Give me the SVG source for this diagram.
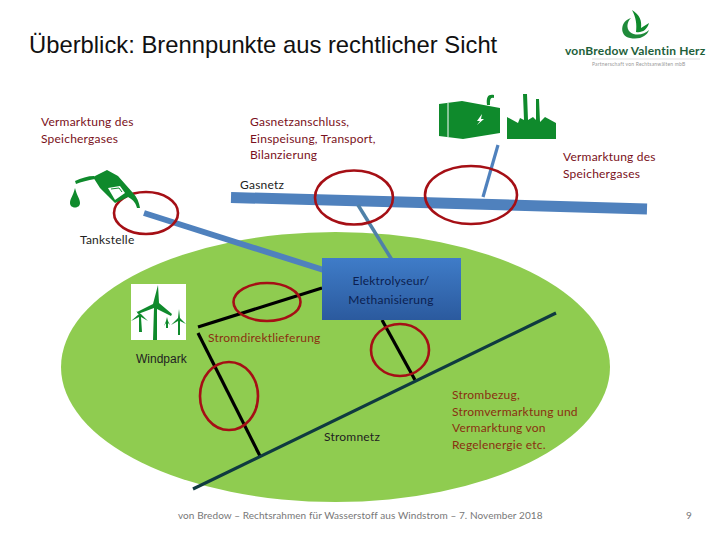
<svg xmlns="http://www.w3.org/2000/svg" width="720" height="540" viewBox="0 0 720 540">
<defs>
<linearGradient id="box" x1="0" y1="0" x2="0" y2="1"><stop offset="0" stop-color="#3f7cc8"/><stop offset="1" stop-color="#2b5a9e"/></linearGradient>
</defs>
<style>
text{font-family:"Lato","Open Sans",sans-serif;font-size:12px;letter-spacing:.22px}
.r{fill:#7a1020}.k{fill:#222}.o{fill:#8a3010}
.c{fill:none;stroke:#a50f15;stroke-width:2.6}
.g{fill:#0f8a2c}
.bl{stroke:#4f81bd;fill:none}
.bk{stroke:#000;stroke-width:3.2;fill:none}
</style>
<rect width="720" height="540" fill="#fff"/>
<ellipse id="region" cx="335.5" cy="367" rx="274.5" ry="135" fill="#8fcc50"/>
<text x="29" y="53" style="font-family:'Liberation Sans',sans-serif;font-size:23.8px;letter-spacing:0" fill="#111">Überblick: Brennpunkte aus rechtlicher Sicht</text>
<g id="logo">
<path class="g" d="M632 10 C640 15 642 21 641 28 L649 23 C647 30 642 33 636 32 C637 25 636 17 632 10Z"/>
<path d="M631 18 C620 21 619 36 630 38 C640 40 647 36 649 30 C645 34 636 37 630 32 C626 28 627 22 631 18Z" fill="#1f8a3a"/>
<text x="565" y="55" style="font-size:12px;font-weight:700;letter-spacing:.2px" fill="#1e5f3a">vonBredow Valentin Herz</text>
<path d="M592 59H700" stroke="#cfcfcf" stroke-width=".7"/>
<text x="592" y="66" style="font-size:5px;letter-spacing:.2px" fill="#999">Partnerschaft von Rechtsanwälten mbB</text>
</g>
<g id="connectors">
<path class="bl" d="M231 197.5 L420 202.5 L647 209" stroke-width="11"/>
<path class="bl" d="M144 213 L330 272" stroke-width="6"/>
<path d="M358 205 L392 260" stroke="#4f81a8" stroke-width="3.5" fill="none"/>
<path class="bl" d="M498 145 L483 197" stroke-width="3.2"/>
<path class="bk" d="M198 327 L322 288"/>
<path class="bk" d="M198 333 L260 456"/>
<path class="bk" d="M382 320 L415 380"/>
<path d="M193 489 L556 313" stroke="#0f3a40" stroke-width="3.2" fill="none"/>
</g>
<g id="elektrolyseur">
<rect x="322" y="258" width="139" height="62" fill="url(#box)"/>
<text x="391" y="285" text-anchor="middle" fill="#0c1f50">Elektrolyseur/</text>
<text x="391" y="304" text-anchor="middle" fill="#0c1f50">Methanisierung</text>
</g>
<g id="focus-circles">
<ellipse class="c" cx="146" cy="213" rx="32" ry="21"/>
<ellipse class="c" cx="267" cy="302" rx="33.5" ry="19"/>
<ellipse class="c" cx="229" cy="396" rx="29" ry="34"/>
<ellipse class="c" cx="400" cy="350" rx="29" ry="26"/>
<ellipse class="c" cx="354" cy="197.5" rx="39" ry="27"/>
<ellipse class="c" cx="471" cy="195" rx="46" ry="29"/>
</g>
<g id="pump">
<path class="g" d="M75 181 C81 178 88 176 94 176 L95 179 C88 180 81 182 76 184Z"/>
<path class="g" d="M93 177 L107 170 L118 176 L133 193 C137 197 139 202 140 208 L137 208 C136 204 134 200 128 197 L115 203 L100 188Z"/>
<path d="M108 188 L120 186 L125 193 L115 200Z" fill="#fff"/>
<path d="M111 189 L119 188 L122 192" fill="none" stroke="#0f8a2c" stroke-width="1"/>
<path class="g" d="M75 188 C73 196 70 199 70 203 C70 209 80 209 80 203 C80 199 77 196 75 188Z"/>
</g>
<g id="powerplant">
<path class="g" d="M439 104 L462 101 L500 108 L500 133 L463 139 L439 136Z"/>
<path d="M448 103V137" stroke="#fff" stroke-width="1" fill="none"/>
<path class="g" d="M487 105 C486 97 488 94 494 95 L494 98 C490 97 490 100 490 105Z"/>
<path d="M482 114 L477 121 L480 121 L477 125 L484 119 L481 119Z" fill="#fff"/>
<path class="g" d="M507 117 L518 123 L520 118 L524 120 L523 94 L527 94 L528 120 L533 117 L536 120 L536 99 L539 99 L540 122 L545 117 L556 123 V139 H507Z"/>
</g>
<g id="windpark">
<rect x="131" y="284" width="55" height="56" fill="#fff"/>
<path class="g" d="M153 340 L154 308 L138 314 L137 312 L153 304 L158 285 L159 303 L172 314 L171 316 L157 309 L157 340Z"/>
<path class="g" d="M139 332 L139 317 L131 321 L139 314 L136 311 L141 314 L148 321 L141 317 L142 332Z"/>
<path class="g" d="M178 335 L178 321 L171 325 L178 318 L179 309 L180 318 L186 324 L180 321 L180 335Z"/>
<path class="g" d="M166 328 L166 323 L164 326 L166 321 L167 317 L168 321 L170 325 L168 323 L168 328Z"/>
</g>
<g id="labels">
<text class="r" x="41" y="126">Vermarktung des</text>
<text class="r" x="41" y="143">Speichergases</text>
<text class="r" x="250" y="126">Gasnetzanschluss,</text>
<text class="r" x="250" y="143">Einspeisung, Transport,</text>
<text class="r" x="250" y="159">Bilanzierung</text>
<text class="r" x="563" y="161">Vermarktung des</text>
<text class="r" x="563" y="178">Speichergases</text>
<text class="k" x="240" y="189">Gasnetz</text>
<text class="k" x="80" y="244">Tankstelle</text>
<text class="o" x="208" y="342">Stromdirektlieferung</text>
<text class="k" x="136" y="363" style="font-family:'Liberation Sans',sans-serif;letter-spacing:0">Windpark</text>
<text class="k" x="324" y="441">Stromnetz</text>
<text class="o" x="452" y="399">Strombezug,</text>
<text class="o" x="452" y="416">Stromvermarktung und</text>
<text class="o" x="452" y="432">Vermarktung von</text>
<text class="o" x="452" y="449">Regelenergie etc.</text>
<text x="178" y="519" style="font-size:10px;letter-spacing:.08px" fill="#777">von Bredow – Rechtsrahmen für Wasserstoff aus Windstrom – 7. November 2018</text>
<text x="686" y="519" style="font-size:10px" fill="#777">9</text>
</g>
</svg>
